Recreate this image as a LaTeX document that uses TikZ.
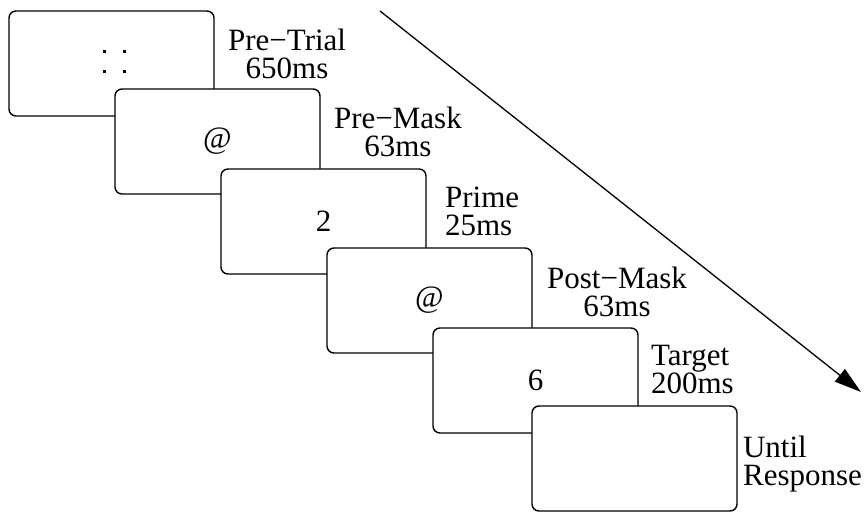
\documentclass[tikz,border=0pt]{standalone}
\usepackage{fontspec}
\setmainfont{Liberation Serif}
\usetikzlibrary{calc,arrows.meta}

\begin{document}
\begin{tikzpicture}[x=0.5pt,y=-0.5pt,
  screen/.style={draw, fill=white, line width=0.7pt, rounded corners=3.5pt, minimum width=102.5pt, minimum height=52.5pt, inner sep=0pt, font=\fontsize{15.5}{14}\selectfont},
  timing/.style={inner sep=0pt, anchor=north west, font=\fontsize{15.5}{14}\selectfont}]
  \useasboundingbox (0,0) rectangle (865,512);
  % Screens
  \node[screen] (pretrial) at (111.5,63.5) {};
  \node[screen] (premask) at (217.5,141.5) {@};
  \node[screen] (prime) at (323.5,221.5) {2};
  \node[screen] (postmask) at (429.5,300.5) {@};
  \node[screen] (target) at (535.5,380.5) {6};
  \node[screen] (response) at (634.5,458.5) {};
  % Fixation dots
  \foreach \dx in {-9,11}
    \foreach \dy in {-13,7}
      \fill ($(pretrial.center)+(\dx,\dy)$) rectangle +(3,3);
  % Timings
  \node[timing, align=center] (pretrialT) at ($(pretrial.north east)+(13,18)$) {Pre−Trial\\650ms};
  \node[timing, align=center] (premaskT) at ($(premask.north east)+(13,18)$) {Pre−Mask\\63ms};
  \node[timing, align=left] (primeT) at ($(prime.north east)+(18,18)$) {Prime\\25ms};
  \node[timing, align=center] (postmaskT) at ($(postmask.north east)+(14,19)$) {Post−Mask\\63ms};
  \node[timing, align=left] (targetT) at ($(target.north east)+(12,18)$) {Target\\200ms};
  \node[timing, align=left] (responseT) at ($(response.north east)+(5,30)$) {Until\\Response};
  % Time arrow
  \coordinate (tstart) at (380,11);
  \coordinate (tstop) at (861,392);
  \draw[line width=0.65pt, -{Triangle[length=13.5pt,width=8pt]}] (tstart) -- (tstop);
\end{tikzpicture}
\end{document}
